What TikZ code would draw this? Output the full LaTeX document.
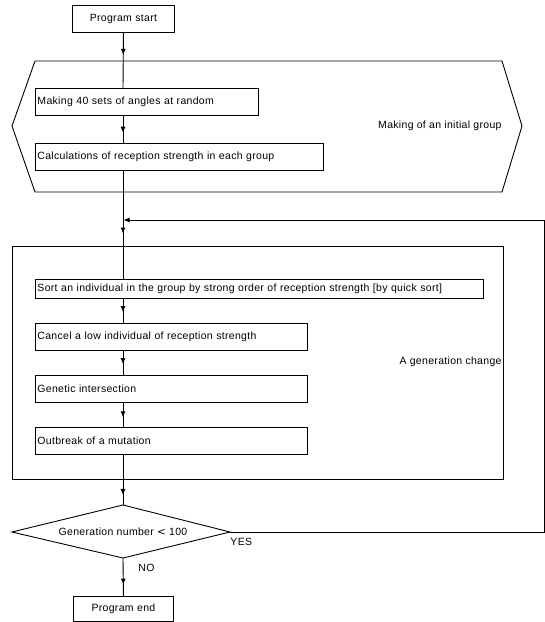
\documentclass[tikz,border=0pt]{standalone}
\usepackage{fontspec}
\setmainfont[LetterSpace=3]{Liberation Sans}
\usetikzlibrary{arrows.meta,decorations.markings}
\begin{document}
\begin{tikzpicture}[x=1pt,y=-1pt, line width=0.9pt,
  >={Latex[length=6pt,width=5pt]},
  box/.style={draw, anchor=north west, inner sep=2pt, align=left,
    font=\fontsize{10.5}{12}\selectfont, minimum height=27pt},
  lbl/.style={inner sep=1pt, font=\fontsize{10.5}{12}\selectfont},
  midarrow/.style={postaction={decorate},
    decoration={markings, mark=at position #1 with {\arrow{>}}}}]
\useasboundingbox (0,0) rectangle (545,622);
\coordinate (mx) at (123,0);
% nodes
\node[box, text width=98pt, align=center] (start) at (72,5) {Program start};
\node[box, text width=219pt] (m40) at (35,88) {Making 40 sets of angles at random};
\node[box, text width=284pt] (calc) at (35,143) {Calculations of reception strength in each group};
\draw (35,61) -- (502,61) -- (522,126) -- (502,192) -- (35,192) -- (12,126) -- cycle;
\node[lbl, anchor=east] (init) at (503,126) {Making of an initial group};
\draw (12,246) rectangle (503,479);
\node[box, text width=444pt, minimum height=19pt] (sort) at (35,279) {Sort an individual in the group by strong order of reception strength [by quick sort]};
\node[box, text width=268pt] (cancel) at (35,323) {Cancel a low individual of reception strength};
\node[box, text width=268pt] (gen) at (35,375) {Genetic intersection};
\node[box, text width=268pt] (mut) at (35,427) {Outbreak of a mutation};
\node[lbl, anchor=east] (chg) at (503,362) {A generation change};
% decision
\coordinate (dt) at (123,505);
\coordinate (dr) at (230,532);
\coordinate (db) at (123,558);
\coordinate (dl) at (12,532);
\draw (dl) -- (dt) -- (dr) -- (db) -- cycle;
\node[lbl] (dec) at (123,532) {Generation number {\fontspec{DejaVu Sans}<} 100};
\node[lbl, anchor=north west] (yes) at (229,537) {YES};
\node[lbl, anchor=west] (no) at (137,568) {NO};
\node[box, text width=96pt, align=center, minimum height=25pt] (end) at (73,596) {Program end};
% connectors
\draw[midarrow=0.4] (start.south) -- (mx |- m40.north);
\draw[midarrow=0.62] (mx |- m40.south) -- (mx |- calc.north);
\draw[midarrow=0.58] (mx |- calc.south) -- (mx |- sort.north);
\draw[midarrow=0.55] (mx |- sort.south) -- (mx |- cancel.north);
\draw[midarrow=0.55] (mx |- cancel.south) -- (mx |- gen.north);
\draw[midarrow=0.6] (mx |- gen.south) -- (mx |- mut.north);
\draw[midarrow=0.8] (mx |- mut.south) -- (dt);
\draw[midarrow=0.7] (db) -- (end.north);
\coordinate (j) at (123,220);
\coordinate (rb) at (544,532);
\coordinate (rt) at (544,220);
\draw[->, shorten >=0.5pt] (dr) -- (rb) -- (rt) -- (j);
\end{tikzpicture}
\end{document}
